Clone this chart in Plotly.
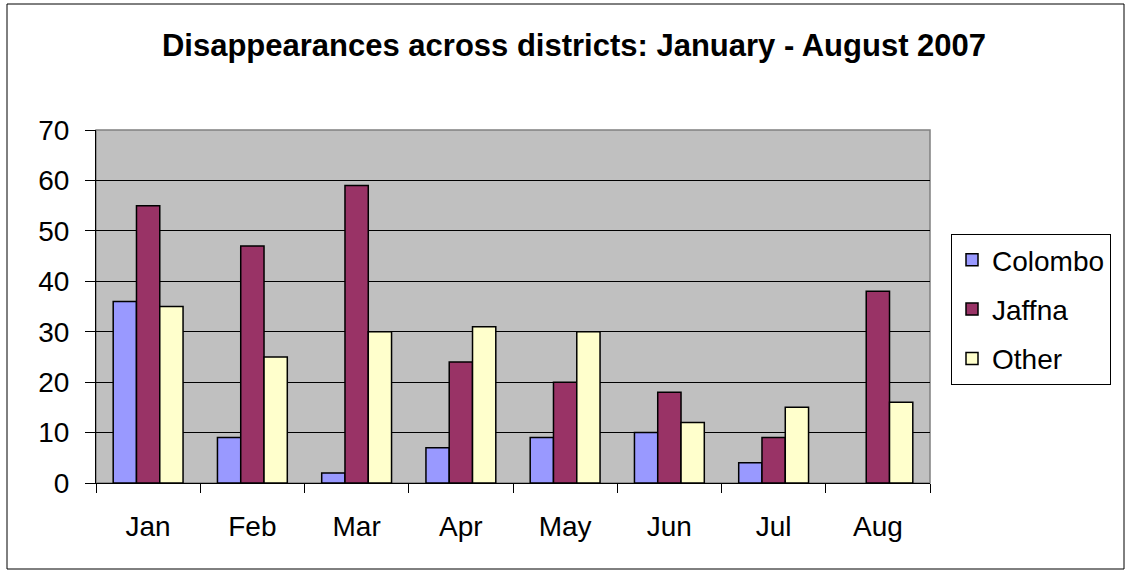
import plotly.graph_objects as go

months = ["Jan", "Feb", "Mar", "Apr", "May", "Jun", "Jul", "Aug"]
colombo = [36, 9, 2, 7, 9, 10, 4, 0]
jaffna = [55, 47, 59, 24, 20, 18, 9, 38]
other = [35, 25, 30, 31, 30, 12, 15, 16]

series = [
    ("Colombo", "#9999FF", colombo),
    ("Jaffna", "#993366", jaffna),
    ("Other", "#FFFFCC", other),
]

W, H = 1131, 573
L, R, T, B = 96, 930, 130, 483  # plot area in px

fig = go.Figure()
for name, color, values in series:
    fig.add_bar(
        name=name,
        x=months,
        y=values,
        legendgroup=name,
        marker={
            "color": color,
            # no outline on empty bars (Aug Colombo)
            "line": {"color": "black", "width": [1.5 if v else 0 for v in values]},
        },
    )


def px_to_paper(x, y):
    return (x - L) / (R - L), (B - y) / (B - T)


x0, y1 = px_to_paper(7, 4)
x1, y0 = px_to_paper(1124, 569)

fig.update_layout(
    width=W,
    height=H,
    margin={"l": L, "r": W - R, "t": T, "b": H - B, "pad": 0},
    paper_bgcolor="white",
    plot_bgcolor="#C0C0C0",
    font={"family": "Arial, Liberation Sans, sans-serif", "color": "black", "size": 28},
    barmode="group",
    bargap=0.33,
    bargroupgap=0,
    title={
        "text": "<b>Disappearances across districts: January - August 2007</b>",
        "font": {"size": 31},
        "x": 574 / W,
        "xanchor": "center",
        "y": 1 - 45 / H,
        "yanchor": "middle",
        "xref": "container",
        "yref": "container",
    },
    legend={
        "x": 951 / W,
        "y": 1 - 234 / H,
        "xref": "container",
        "yref": "container",
        "xanchor": "left",
        "yanchor": "top",
        "bordercolor": "black",
        "borderwidth": 1,
        "bgcolor": "white",
        "font": {"size": 28},
        "itemwidth": 30,
        "traceorder": "grouped",
        "tracegroupgap": 10,
    },
    xaxis={
        "showgrid": False,
        "showline": True,
        "linecolor": "black",
        "linewidth": 1,
        "ticks": "outside",
        "tickson": "boundaries",
        "ticklen": 9,
        "tickcolor": "black",
        "ticklabelstandoff": 18,
    },
    yaxis={
        "range": [0, 70],
        "dtick": 10,
        "showgrid": True,
        "gridcolor": "black",
        "gridwidth": 1,
        "zeroline": False,
        "showline": True,
        "linecolor": "black",
        "linewidth": 1,
        "ticks": "outside",
        "ticklen": 10,
        "tickcolor": "black",
        "ticklabelstandoff": 10,
    },
    shapes=[
        {
            "type": "rect", "xref": "paper", "yref": "paper",
            "x0": 0, "x1": 1, "y0": 0, "y1": 1,
            "line": {"color": "#808080", "width": 1.5}, "layer": "below",
        },
        {
            "type": "rect", "xref": "paper", "yref": "paper",
            "x0": x0, "x1": x1, "y0": y0, "y1": y1,
            "line": {"color": "black", "width": 1},
        },
    ],
)

fig.write_html(
    "out.html",
    config={"displayModeBar": False},
    post_script="document.body.style.margin='0';document.body.style.overflow='hidden';",
)
